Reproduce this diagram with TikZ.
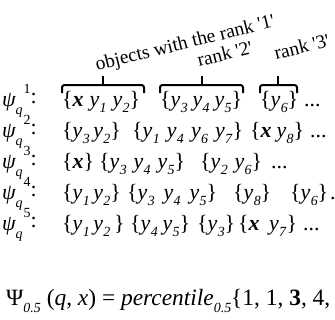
\documentclass[tikz,border=0pt]{standalone}
\usepackage{fontspec}
\setmainfont{Liberation Serif}
\newcommand\Yv[1]{\textit{y}\kern0.3pt\raisebox{-0.3em}{\fontsize{14}{14}\selectfont\textit{#1}}}
\newcommand\Xb{\textbf{\textit{x}}}
\newcommand\Psq[1]{\textit{ψ}\kern-0.5pt\raisebox{-0.38em}{\fontsize{14}{14}\selectfont\textit{q}}\kern1pt\raisebox{0.55em}{\fontsize{14}{14}\selectfont #1}\raisebox{0.12em}{:}}
\newcommand\Sbf[1]{\raisebox{-0.3em}{\fontsize{14}{14}\selectfont\textit{#1}}}
\newcommand\Q{\textquotesingle}
\begin{document}
\begin{tikzpicture}[x=1bp,y=-1bp,
  rowtxt/.style={anchor=base west, inner sep=0pt, font=\fontsize{22}{26}\selectfont},
  ftxt/.style={anchor=base west, inner sep=0pt, font=\fontsize{23.5}{28}\selectfont},
  lbl/.style={anchor=base west, inner sep=0pt, rotate=14, font=\fontsize{19.5}{22}\selectfont},
  bracket/.style={line width=2bp, rounded corners=2.5bp}]
\useasboundingbox (0,0) rectangle (335,320);
\clip (0,0) rectangle (335,320);
% rank labels
\node[lbl] (l1) at (97,71) {objects with the rank \Q1\Q};
\node[lbl] (l2) at (199,67) {rank \Q2\Q};
\node[lbl] (l3) at (276,60) {rank \Q3\Q};
% brackets
\draw[bracket] (62,93) -- (62,85) -- (144,85) -- (144,93);
\draw[bracket] (103,85) -- (103,76);
\draw[bracket] (160,93) -- (160,85) -- (243,85) -- (243,93);
\draw[bracket] (202,85) -- (202,76);
\draw[bracket] (260,93) -- (260,85) -- (297,85) -- (297,93);
\draw[bracket] (278,85) -- (278,76);
% row 1
\node[rowtxt] (p1) at (2,106) {\Psq{1}};
\node[rowtxt] (a1) at (62,106) {\makebox[78bp][s]{\{\Xb{} \Yv{1} \Yv{2}\}}};
\node[rowtxt] (b1) at (160,106) {\makebox[82bp][s]{\{\Yv{3} \Yv{4} \Yv{5}\}}};
\node[rowtxt] (c1) at (260,106) {\{\Yv{6}\}};
\node[rowtxt] (d1) at (304,106) {...};
% row 2
\node[rowtxt] (p2) at (2,137) {\Psq{2}};
\node[rowtxt] (a2) at (62,137) {\makebox[58bp][s]{\{\Yv{3} \Yv{2}\}}};
\node[rowtxt] (b2) at (132,137) {\makebox[111bp][s]{\{\Yv{1} \Yv{4} \Yv{6} \Yv{7}\}}};
\node[rowtxt] (c2) at (250,137) {\makebox[54bp][s]{\{\Xb{} \Yv{8}\}}};
\node[rowtxt] (d2) at (310,137) {...};
% row 3
\node[rowtxt] (p3) at (2,168) {\Psq{3}};
\node[rowtxt] (a3) at (62,168) {\{\Xb\}};
\node[rowtxt] (b3) at (99,168) {\makebox[86bp][s]{\{\Yv{3} \Yv{4} \Yv{5}\}}};
\node[rowtxt] (c3) at (200,168) {\makebox[62bp][s]{\{\Yv{2} \Yv{6}\}}};
\node[rowtxt] (d3) at (271,168) {...};
% row 4
\node[rowtxt] (p4) at (2,199) {\Psq{4}};
\node[rowtxt] (a4) at (62,199) {\makebox[57bp][s]{\{\Yv{1} \Yv{2}\}}};
\node[rowtxt] (b4) at (127,199) {\makebox[90bp][s]{\{\Yv{3} \Yv{4} \Yv{5}\}}};
\node[rowtxt] (c4) at (233,199) {\{\Yv{8}\}};
\node[rowtxt] (e4) at (290,199) {\{\Yv{6}\}};
\node[rowtxt] (d4) at (330,199) {...};
% row 5
\node[rowtxt] (p5) at (2,230) {\Psq{5}};
\node[rowtxt] (a5) at (62,230) {\makebox[62bp][s]{\{\Yv{1} \Yv{2} \}}};
\node[rowtxt] (b5) at (130,230) {\makebox[60bp][s]{\{\Yv{4} \Yv{5}\}}};
\node[rowtxt] (c5) at (197,230) {\{\Yv{3}\}};
\node[rowtxt] (e5) at (238,230) {\makebox[59bp][s]{\{\Xb{} \Yv{7}\}}};
\node[rowtxt] (d5) at (303,230) {...};
% formula
\node[ftxt] (f) at (6,305) {Ψ\Sbf{0.5} (\textit{q}, \textit{x}) = \textit{percentile}\Sbf{0.5}\{1, 1, \textbf{3}, 4,};
\end{tikzpicture}
\end{document}
